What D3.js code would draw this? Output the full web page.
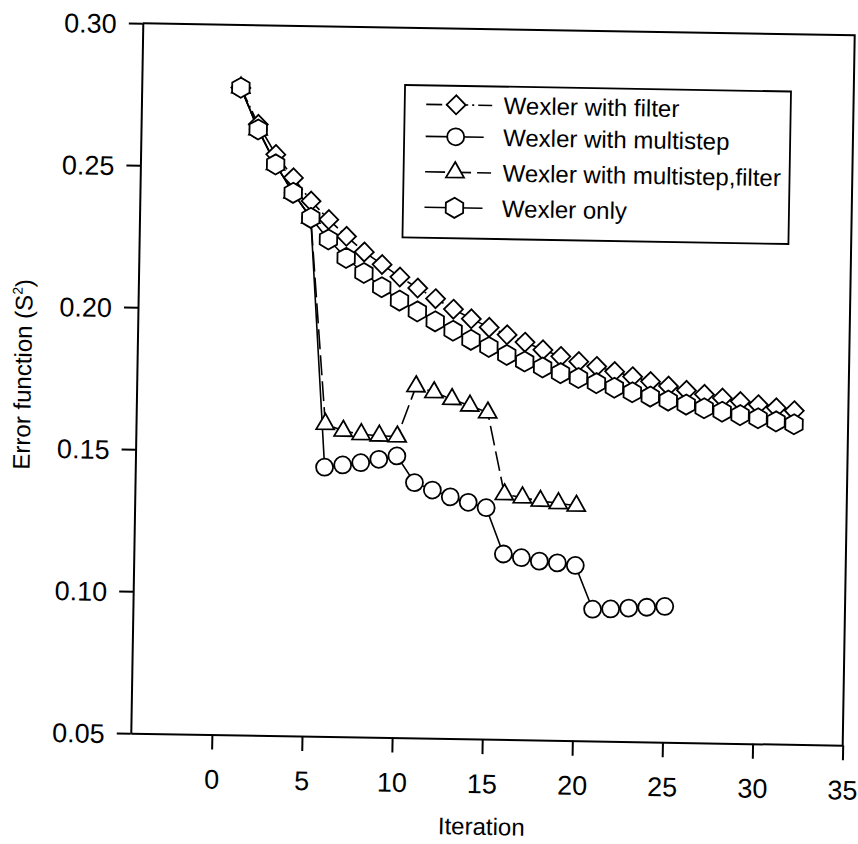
<!DOCTYPE html>
<html>
<head>
<meta charset="utf-8">
<script src="https://cdn.jsdelivr.net/npm/d3@7"></script>
<style>
  html, body { margin: 0; padding: 0; background: #fff; }
  svg { display: block; }
</style>
</head>
<body>
<svg id="chart" width="858" height="844"></svg>
<script>
// Iteration numbers shared by all series
const iterations = [1, 2, 3, 4, 5, 6, 7, 8, 9, 10, 11, 12, 13, 14, 15, 16,
                    17, 18, 19, 20, 21, 22, 23, 24, 25, 26, 27, 28, 29, 30, 31, 32];

// Error function (S²) per iteration
const wexlerWithFilter = [0.2779, 0.2651, 0.2546, 0.2465, 0.2384, 0.2320, 0.2262, 0.2208,
                          0.2165, 0.2122, 0.2084, 0.2048, 0.2012, 0.1979, 0.1950, 0.1925,
                          0.1900, 0.1874, 0.1852, 0.1835, 0.1819, 0.1802, 0.1785, 0.1769,
                          0.1754, 0.1740, 0.1727, 0.1715, 0.1704, 0.1694, 0.1684, 0.1675];
const wexlerMultistep = [0.2779, 0.2633, 0.2511, 0.2412, 0.2325, 0.1448, 0.1457, 0.1466,
                         0.1479, 0.1492, 0.1399, 0.1374, 0.1351, 0.1333, 0.1315, 0.1153,
                         0.1141, 0.1130, 0.1125, 0.1117, 0.0964, 0.0966, 0.0970, 0.0974,
                         0.0978];
const wexlerMultistepFilter = [0.2779, 0.2633, 0.2511, 0.2412, 0.2325, 0.1600, 0.1577, 0.1566,
                               0.1562, 0.1560, 0.1738, 0.1718, 0.1695, 0.1673, 0.1650, 0.1363,
                               0.1353, 0.1342, 0.1335, 0.1327];
const wexlerOnly = [0.2779, 0.2633, 0.2511, 0.2412, 0.2325, 0.2250, 0.2186, 0.2134,
                    0.2085, 0.2039, 0.2002, 0.1968, 0.1936, 0.1905, 0.1881, 0.1854,
                    0.1832, 0.1812, 0.1793, 0.1777, 0.1760, 0.1745, 0.1730, 0.1716,
                    0.1703, 0.1690, 0.1678, 0.1667, 0.1656, 0.1646, 0.1636, 0.1627];

const seriesNames = ["Wexler with filter", "Wexler with multistep",
                     "Wexler with multistep,filter", "Wexler only"];

const xTicks = [0, 5, 10, 15, 20, 25, 30, 35];
const yTicks = [0.05, 0.10, 0.15, 0.20, 0.25, 0.30];
const xDomain = [-4.5, 35];
const yDomain = [0.05, 0.30];

const xTitle = "Iteration";

// ---- layout ----
const W = 858, H = 844;
const box = { left: 136.75, right: 848.75, top: 29.25, bottom: 739.25 };
const tiltDeg = 0.97;
const cx = (box.left + box.right) / 2, cy = (box.top + box.bottom) / 2;
const FONT = "'Liberation Sans', Arial, Helvetica, sans-serif";

// custom marker shapes
const symbolHexagon = {
  draw(ctx, size) {
    const r = Math.sqrt(size * 2 / (3 * Math.sqrt(3)));
    for (let i = 0; i < 6; i++) {
      const a = (-90 + 60 * i) * Math.PI / 180;
      const px = r * Math.cos(a), py = r * Math.sin(a);
      if (i === 0) ctx.moveTo(px, py); else ctx.lineTo(px, py);
    }
    ctx.closePath();
  }
};
const symbolRhombus = {
  draw(ctx, size) {
    const r = Math.sqrt(size / 2);
    ctx.moveTo(0, -r); ctx.lineTo(r, 0); ctx.lineTo(0, r); ctx.lineTo(-r, 0); ctx.closePath();
  }
};

const series = [
  { name: seriesNames[0], values: wexlerWithFilter, type: symbolRhombus, size: 180, dash: "16,4,2,4" },
  { name: seriesNames[1], values: wexlerMultistep, type: d3.symbolCircle, size: 227, dash: null },
  { name: seriesNames[2], values: wexlerMultistepFilter, type: d3.symbolTriangle, size: 140, dash: "20,6" },
  { name: seriesNames[3], values: wexlerOnly, type: symbolHexagon, size: 262, dash: null }
];
series.forEach(s => { s.points = s.values.map((v, i) => ({ x: iterations[i], y: v })); });

const x = d3.scaleLinear().domain(xDomain).range([box.left, box.right]);
const y = d3.scaleLinear().domain(yDomain).range([box.bottom, box.top]);

const svg = d3.select("#chart");
svg.append("rect").attr("width", W).attr("height", H).attr("fill", "#fff");

const g = svg.append("g")
  .attr("transform", `rotate(${tiltDeg},${cx},${cy})`)
  .attr("font-family", FONT);

// frame (top and right edges)
g.append("path")
  .attr("d", `M${box.left},${box.top}H${box.right}V${box.bottom}`)
  .attr("fill", "none").attr("stroke", "#000").attr("stroke-width", 2);

// y axis
const yAxis = g.append("g")
  .attr("transform", `translate(${box.left},0)`)
  .call(d3.axisLeft(y).tickValues(yTicks).tickFormat(d3.format(".2f"))
        .tickSize(14).tickSizeOuter(0).tickPadding(12));
// x axis
const xAxis = g.append("g")
  .attr("transform", `translate(0,${box.bottom})`)
  .call(d3.axisBottom(x).tickValues(xTicks).tickFormat(d3.format("d"))
        .tickSize(15).tickSizeOuter(0).tickPadding(20));

[yAxis, xAxis].forEach(a => {
  a.select(".domain").attr("stroke-width", 2);
  a.selectAll(".tick line").attr("stroke-width", 2);
  a.selectAll(".tick text").attr("font-size", 27).attr("fill", "#000").attr("font-family", FONT);
});
yAxis.selectAll(".tick text").attr("dy", "0.36em");

// axis titles
g.append("text")
  .attr("x", (box.left + box.right) / 2 - 4).attr("y", 835)
  .attr("text-anchor", "middle").attr("font-size", 24).attr("fill", "#000")
  .text(xTitle);

const yt = g.append("text")
  .attr("transform", `translate(31,${cy - 2}) rotate(-90)`)
  .attr("text-anchor", "middle").attr("font-size", 24).attr("fill", "#000");
yt.append("tspan").text("Error function (S");
yt.append("tspan").attr("font-size", 14).attr("dy", -10).text("2");
yt.append("tspan").attr("dy", 10).text(")");

// connecting lines
const line = d3.line().x(d => x(d.x)).y(d => y(d.y));
series.forEach(s => {
  g.append("path")
    .attr("d", line(s.points))
    .attr("fill", "none").attr("stroke", "#000").attr("stroke-width", 1.6)
    .attr("stroke-dasharray", s.dash);
});

// markers (hexagons drawn last so they sit on top)
const drawOrder = [1, 2, 0, 3];
drawOrder.forEach(k => {
  const s = series[k];
  const sym = d3.symbol().type(s.type).size(s.size);
  g.append("g").selectAll("path").data(s.points).join("path")
    .attr("transform", d => `translate(${x(d.x)},${y(d.y)})`)
    .attr("d", sym)
    .attr("fill", "#fff").attr("stroke", "#000").attr("stroke-width", 1.8);
});

// legend
const legend = { left: 400, top: 86.5, right: 786, bottom: 239 };
const lg = g.append("g");
lg.append("rect")
  .attr("x", legend.left).attr("y", legend.top)
  .attr("width", legend.right - legend.left).attr("height", legend.bottom - legend.top)
  .attr("fill", "#fff").attr("stroke", "#000").attr("stroke-width", 1.8);
const rowY = [105.5, 137.5, 173, 208.5];
const symX = 451.5;
series.forEach((s, i) => {
  const row = lg.append("g").attr("transform", `translate(0,${rowY[i]})`);
  row.append("line")
    .attr("x1", symX - 30).attr("x2", symX + (s.dash ? 36 : 28))
    .attr("stroke", "#000").attr("stroke-width", 1.6)
    .attr("stroke-dasharray", s.dash);
  row.append("path")
    .attr("transform", `translate(${symX},0)`)
    .attr("d", d3.symbol().type(s.type).size(s.size)())
    .attr("fill", "#fff").attr("stroke", "#000").attr("stroke-width", 1.8);
  row.append("text")
    .attr("x", 499).attr("dy", "0.35em")
    .attr("font-size", 24).attr("fill", "#000")
    .text(s.name);
});
</script>
</body>
</html>
